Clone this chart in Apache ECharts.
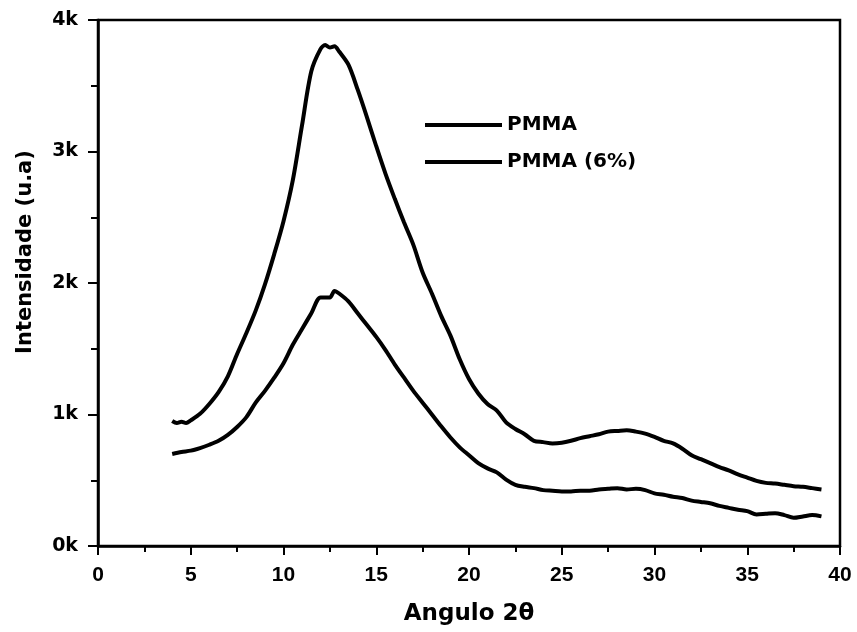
<!DOCTYPE html>
<html>
<head>
<meta charset="utf-8">
<script src="https://cdn.jsdelivr.net/npm/echarts@6/dist/echarts.min.js"></script>
<style>html,body{margin:0;padding:0;background:#fff}#c{width:857px;height:632px}</style>
</head>
<body>
<div id="c"></div>
<script>
var seriesNames = ['PMMA', 'PMMA (6%)'];
var xTickLabels = ['0','5','10','15','20','25','30','35','40'];
var yTickLabels = ['0k','1k','2k','3k','4k'];

var xPMMA = [4.0,4.25,4.5,4.75,5.0,5.5,6.0,6.5,7.0,7.5,8.0,8.5,9.0,9.5,10.0,10.5,11.0,11.5,12.0,12.25,12.5,12.75,13.0,13.5,14.0,14.5,15.0,15.5,16.0,16.5,17.0,17.5,18.0,18.5,19.0,19.5,20.0,20.5,21.0,21.5,22.0,22.5,23.0,23.5,24.0,24.5,25.0,25.5,26.0,26.5,27.0,27.5,28.0,28.5,29.0,29.5,30.0,30.5,31.0,31.5,32.0,32.5,33.0,33.5,34.0,34.5,35.0,35.5,36.0,36.5,37.0,37.5,38.0,38.5,39.0];
var yPMMA = [950,935,945,935,955,1005,1080,1170,1290,1460,1620,1790,1990,2220,2470,2780,3200,3610,3780,3810,3790,3800,3760,3660,3470,3260,3040,2830,2640,2460,2290,2080,1920,1750,1600,1420,1270,1160,1080,1030,940,890,850,800,790,780,785,800,820,835,850,870,875,880,870,855,830,800,780,740,690,660,630,600,575,545,520,495,480,475,465,455,450,440,430];

var xPMMA6 = [4.0,4.5,5.0,5.5,6.0,6.5,7.0,7.5,8.0,8.5,9.0,9.5,10.0,10.5,11.0,11.5,12.0,12.5,12.75,13.0,13.5,14.0,14.5,15.0,15.5,16.0,16.5,17.0,17.5,18.0,18.5,19.0,19.5,20.0,20.5,21.0,21.5,22.0,22.5,23.0,23.5,24.0,24.5,25.0,25.5,26.0,26.5,27.0,27.5,28.0,28.5,29.0,29.5,30.0,30.5,31.0,31.5,32.0,32.5,33.0,33.5,34.0,34.5,35.0,35.5,36.0,36.5,37.0,37.5,38.0,38.5,39.0];
var yPMMA6 = [700,715,725,745,770,800,845,905,980,1090,1180,1280,1390,1530,1650,1770,1890,1890,1940,1920,1860,1770,1680,1590,1490,1380,1280,1180,1090,1000,910,825,750,690,630,590,560,505,465,450,440,425,420,415,415,420,420,430,435,440,430,435,425,400,390,375,365,345,335,325,305,290,275,265,240,245,250,235,215,225,235,225];

function pairs(xs, ys){ return xs.map(function(x,i){ return [x, ys[i]]; }); }

var chart = echarts.init(document.getElementById('c'), null, {renderer:'canvas'});
var wide = '"DejaVu Sans", Verdana, sans-serif';
var narrow = '"Liberation Sans", Arial, sans-serif';
chart.setOption({
  animation: false,
  backgroundColor: '#fff',
  grid: { left: 98, right: 17, top: 20, bottom: 86, show: true, borderColor: '#000', borderWidth: 2.5, containLabel: false },
  legend: {
    orient: 'vertical', left: 420, top: 110, itemWidth: 77, itemHeight: 4, itemGap: 17, icon: 'rect',
    data: seriesNames,
    textStyle: { fontFamily: wide, fontWeight: 'bold', fontSize: 20, color: '#000' }
  },
  xAxis: {
    type: 'value', min: 0, max: 40, interval: 5,
    name: 'Angulo 2θ', nameLocation: 'middle', nameGap: 57,
    nameTextStyle: { fontFamily: wide, fontWeight: 'bold', fontSize: 23, color: '#000' },
    axisLine: { show: true, lineStyle: { color: '#000', width: 2.5 } },
    axisTick: { show: true, inside: false, length: 9, lineStyle: { color: '#000', width: 2 } },
    minorTick: { show: true, splitNumber: 2, length: 6, lineStyle: { color: '#000', width: 2 } },
    splitLine: { show: false },
    axisLabel: { fontFamily: narrow, fontWeight: 'bold', fontSize: 21, color: '#000', margin: 19,
      formatter: function(v){ return xTickLabels[Math.round(v/5)]; } }
  },
  yAxis: {
    type: 'value', min: 0, max: 4000, interval: 1000,
    name: 'Intensidade (u.a)', nameLocation: 'middle', nameGap: 62,
    nameTextStyle: { fontFamily: wide, fontWeight: 'bold', fontSize: 21, color: '#000', padding: [0,0,0,62] },
    axisLine: { show: true, lineStyle: { color: '#000', width: 2.5 } },
    axisTick: { show: true, inside: false, length: 10, lineStyle: { color: '#000', width: 2 } },
    minorTick: { show: true, splitNumber: 2, length: 7, lineStyle: { color: '#000', width: 2 } },
    splitLine: { show: false },
    axisLabel: { fontFamily: wide, fontWeight: 'bold', fontSize: 19, color: '#000', margin: 20,
      formatter: function(v){ return yTickLabels[Math.round(v/1000)]; } }
  },
  series: [
    { name: seriesNames[0], type: 'line', data: pairs(xPMMA, yPMMA), showSymbol: false, smooth: 0.3,
      lineStyle: { color: '#000', width: 4 }, itemStyle: { color: '#000' } },
    { name: seriesNames[1], type: 'line', data: pairs(xPMMA6, yPMMA6), showSymbol: false, smooth: 0.3,
      lineStyle: { color: '#000', width: 4 }, itemStyle: { color: '#000' } }
  ]
});
</script>
</body>
</html>
